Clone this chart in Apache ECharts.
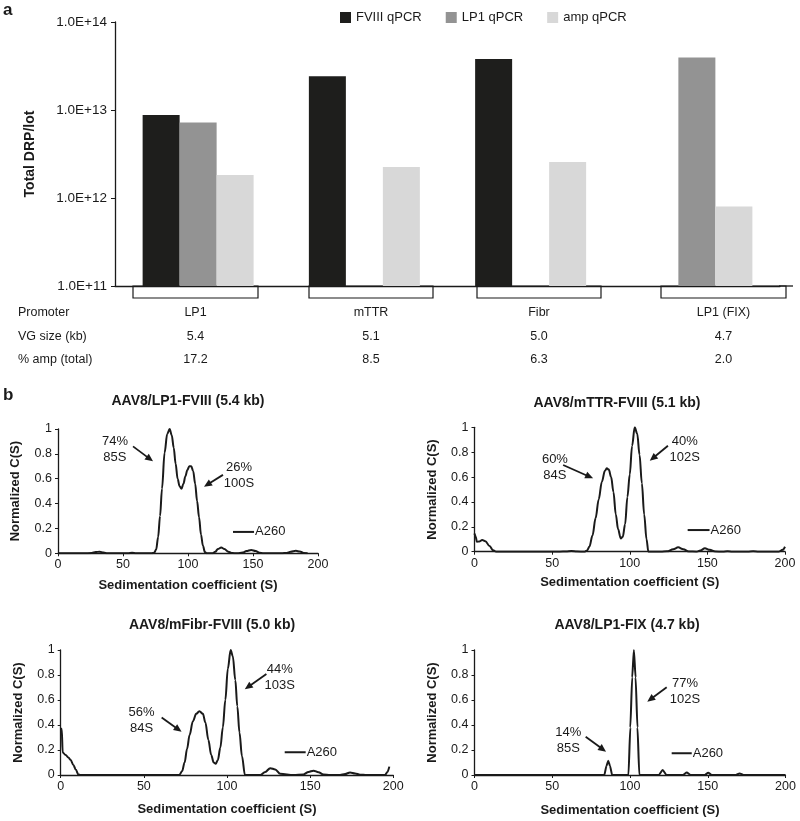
<!DOCTYPE html>
<html><head><meta charset="utf-8">
<script src="https://cdn.jsdelivr.net/npm/echarts@6/dist/echarts.min.js"></script>
<style>html,body{margin:0;padding:0;background:#fff}#c{width:800px;height:821px}</style>
</head><body><div id="c"></div>
<script>
// ---------- Panel a data ----------
const categories = ['LP1', 'mTTR', 'Fibr', 'LP1 (FIX)'];
const seriesNames = ['FVIII qPCR', 'LP1 qPCR', 'amp qPCR'];
const fviiiQpcr = [8.8e12, 2.42e13, 3.8e13, null];
const lp1Qpcr = [7.2e12, null, null, 3.95e13];
const ampQpcr = [1.82e12, 2.25e12, 2.57e12, 8.0e11];
const yTickLabels = ['1.0E+11', '1.0E+12', '1.0E+13', '1.0E+14'];
const rowLabels = ['Promoter', 'VG size (kb)', '% amp (total)'];
const promoters = ['LP1', 'mTTR', 'Fibr', 'LP1 (FIX)'];
const vgSizes = ['5.4', '5.1', '5.0', '4.7'];
const ampTotals = ['17.2', '8.5', '6.3', '2.0'];

// ---------- Panel b data ----------
const plotTitles = ['AAV8/LP1-FVIII (5.4 kb)', 'AAV8/mTTR-FVIII (5.1 kb)', 'AAV8/mFibr-FVIII (5.0 kb)', 'AAV8/LP1-FIX (4.7 kb)'];
const xTitle = 'Sedimentation coefficient (S)';
const yTitle = 'Normalized C(S)';

const lp1FviiiS = [0, 20, 26, 29, 32, 35, 38, 50, 54, 57, 60, 72, 74, 75.5, 77, 78.5, 80, 82, 84, 85.9, 87.5, 89, 90.5, 92, 93.5, 95, 96.5, 98, 99.5, 101, 102.5, 104, 105.5, 107, 108.5, 110, 111.5, 113, 114.5, 117, 119, 121, 123, 125.6, 128, 131, 134, 138, 142, 145, 148.6, 152, 155, 158, 172, 176, 179, 183, 186, 189, 192];
const lp1FviiiC = [0, 0, 0.002, 0.01, 0.013, 0.006, 0, 0, 0, 0.004, 0, 0, 0.005, 0.03, 0.13, 0.3, 0.52, 0.81, 0.96, 1.0, 0.95, 0.85, 0.72, 0.6, 0.54, 0.52, 0.56, 0.62, 0.67, 0.7, 0.7, 0.66, 0.56, 0.42, 0.29, 0.15, 0.06, 0.01, 0, 0, 0, 0.012, 0.035, 0.046, 0.035, 0.012, 0.002, 0, 0.006, 0.018, 0.027, 0.018, 0.005, 0, 0, 0.003, 0.012, 0.02, 0.014, 0.003, 0];

const mttrS = [0, 0.8, 1.5, 3, 5, 7, 9.7, 12, 14, 55, 59, 62.4, 66, 71, 72.5, 74, 76, 78, 80, 82, 84, 85.2, 86.5, 88, 89.5, 91, 92.5, 94.2, 95.5, 97, 98.5, 100, 101.5, 103.2, 104.8, 106.3, 107.8, 109.3, 110.8, 112, 120, 124, 128, 131.2, 134.5, 138, 143, 145.5, 148.4, 151.5, 155, 160, 163, 166, 176, 179.5, 183, 196, 198.5, 200];
const mttrC = [0.147, 0.12, 0.08, 0.082, 0.094, 0.085, 0.045, 0.012, 0, 0, 0.002, 0.005, 0.001, 0, 0.01, 0.04, 0.13, 0.27, 0.42, 0.56, 0.65, 0.67, 0.66, 0.6, 0.48, 0.3, 0.18, 0.107, 0.12, 0.22, 0.44, 0.62, 0.85, 1.0, 0.95, 0.78, 0.55, 0.3, 0.1, 0, 0, 0.003, 0.02, 0.035, 0.02, 0.002, 0, 0.01, 0.027, 0.015, 0.001, 0, 0.004, 0, 0, 0.004, 0, 0, 0.015, 0.04];

const fibrS = [0, 0.6, 1.2, 3, 4.6, 6, 7.6, 9, 10.6, 12, 71.3, 73, 74.5, 76, 77.5, 79.5, 81.5, 83.4, 85.5, 87, 88.8, 90.5, 92, 93.2, 94.5, 96, 97.5, 99, 100.5, 102.2, 103.5, 105, 106.2, 107.5, 109, 110.8, 120, 123, 126, 129, 132, 140, 146, 149, 152, 155, 158, 162, 168, 171, 174, 177, 180, 184, 195, 196.5, 197.6];
const fibrC = [0.37, 0.37, 0.18, 0.16, 0.14, 0.12, 0.08, 0.045, 0.005, 0, 0, 0.03, 0.1, 0.21, 0.32, 0.43, 0.49, 0.51, 0.49, 0.42, 0.28, 0.16, 0.1, 0.09, 0.12, 0.22, 0.38, 0.6, 0.85, 1.0, 0.95, 0.76, 0.55, 0.34, 0.15, 0, 0, 0.025, 0.055, 0.045, 0.01, 0, 0.005, 0.025, 0.035, 0.022, 0.005, 0, 0, 0.008, 0.02, 0.012, 0.003, 0, 0, 0.025, 0.067];

const lp1FixS = [0, 83.5, 84.8, 86, 87.2, 88.5, 99, 100.2, 101.4, 102.5, 103.6, 104.8, 106, 118.5, 121, 123.5, 134, 136.5, 139, 148, 150.3, 152.6, 168, 170.5, 173, 200];
const lp1FixC = [0, 0, 0.07, 0.115, 0.07, 0, 0, 0.38, 0.78, 1.0, 0.78, 0.38, 0, 0, 0.04, 0, 0, 0.02, 0, 0, 0.018, 0, 0, 0.013, 0, 0];

// annotation texts (peak fraction / sedimentation value)
const peakLabels = [
  ['74%\n85S', '26%\n100S'],
  ['60%\n84S', '40%\n102S'],
  ['56%\n84S', '44%\n103S'],
  ['14%\n85S', '77%\n102S']
];
const detectorLabel = 'A260';

// ---------- layout (positions only) ----------
const FONT = 'Arial, "Liberation Sans", Helvetica, sans-serif';
const INK = '#1a1a1a';
const barColors = ['#1e1e1c', '#939393', '#d8d8d8'];
const smallGrids = [
  {left: 58, top: 429, width: 260, height: 124.3},
  {left: 474.5, top: 427.3, width: 310.5, height: 124.4},
  {left: 60.7, top: 650, width: 332.6, height: 125},
  {left: 474.5, top: 650, width: 311, height: 125}
];
const xNameGaps = [26, 24, 28, 28.5];
const titlePos = [[188, 401], [617, 403.5], [212, 625], [627, 625]];
// annotation anchors in data coordinates: [text centre], [arrow tail], [arrow head]
const annLayout = [
  [{t: [43.8, 0.835], a: [57.7, 0.86], b: [73.1, 0.74]}, {t: [139.2, 0.623], a: [126.9, 0.631], b: [112.3, 0.535]}, {l: [134.6, 150.8, 0.172]}],
  [{t: [51.8, 0.681], a: [57.1, 0.697], b: [76.4, 0.59]}, {t: [135.4, 0.822], a: [124.6, 0.852], b: [112.9, 0.731]}, {l: [137.3, 151.4, 0.174]}],
  [{t: [48.6, 0.434], a: [60.7, 0.46], b: [72.7, 0.346]}, {t: [131.7, 0.78], a: [123.7, 0.808], b: [110.7, 0.686]}, {l: [134.7, 147.3, 0.182]}],
  [{t: [60.3, 0.276], a: [71.5, 0.306], b: [84.6, 0.186]}, {t: [135.4, 0.67], a: [123.6, 0.702], b: [111.1, 0.586]}, {l: [126.8, 139.7, 0.174]}]
];
const bracketX = [[133, 258], [309, 433], [477, 601], [661, 786]];
const rowY = [313, 337, 360];

const curves = [[lp1FviiiS, lp1FviiiC], [mttrS, mttrC], [fibrS, fibrC], [lp1FixS, lp1FixC]];
const smoothing = [0.35, 0.35, 0.35, 0.2];

const chart = echarts.init(document.getElementById('c'), null, {renderer: 'canvas'});

const grid = [{left: 115, top: 22, width: 665, height: 264, containLabel: false, outerBoundsMode: 'none'}]
  .concat(smallGrids.map(g => Object.assign({containLabel: false, outerBoundsMode: 'none'}, g)));

const xAxis = [{
  type: 'category', gridIndex: 0, data: categories,
  axisLine: {lineStyle: {color: INK, width: 1.3}},
  axisTick: {show: false}, axisLabel: {show: false}, splitLine: {show: false}
}];
const yAxis = [{
  type: 'log', gridIndex: 0, logBase: 10, min: 1e11, max: 1e14,
  name: 'Total DRP/lot', nameLocation: 'middle', nameGap: 78,
  nameTextStyle: {fontWeight: 'bold', fontSize: 14, color: INK, fontFamily: FONT},
  axisLine: {show: true, lineStyle: {color: INK, width: 1.3}},
  axisTick: {show: true, length: 4, lineStyle: {color: INK}},
  minorTick: {show: false}, splitLine: {show: false}, minorSplitLine: {show: false},
  axisLabel: {margin: 8, fontSize: 13.5, color: INK, fontFamily: FONT,
    formatter: v => yTickLabels[Math.round(Math.log10(v)) - 11]}
}];
const series = [fviiiQpcr, lp1Qpcr, ampQpcr].map((d, i) => ({
  type: 'bar', name: seriesNames[i], xAxisIndex: 0, yAxisIndex: 0, data: d,
  barWidth: 37, barGap: '0%', itemStyle: {color: barColors[i]}, clip: true
}));

curves.forEach((cv, k) => {
  const gi = k + 1;
  xAxis.push({
    type: 'value', gridIndex: gi, min: 0, max: 200, interval: 50,
    name: xTitle, nameLocation: 'middle', nameGap: xNameGaps[k],
    nameTextStyle: {fontWeight: 'bold', fontSize: 13, color: INK, fontFamily: FONT},
    axisLine: {show: true, lineStyle: {color: INK, width: 1.3}},
    axisTick: {show: true, length: 3, lineStyle: {color: INK}},
    axisLabel: {margin: 5, fontSize: 12.5, color: INK, fontFamily: FONT},
    splitLine: {show: false}
  });
  yAxis.push({
    type: 'value', gridIndex: gi, min: 0, max: 1, interval: 0.2,
    name: yTitle, nameLocation: 'middle', nameGap: 36,
    nameTextStyle: {fontWeight: 'bold', fontSize: 13, color: INK, fontFamily: FONT},
    axisLine: {show: true, lineStyle: {color: INK, width: 1.3}},
    axisTick: {show: true, length: 3, lineStyle: {color: INK}},
    axisLabel: {margin: 6, fontSize: 12.5, color: INK, fontFamily: FONT},
    splitLine: {show: false}
  });
  series.push({
    type: 'line', xAxisIndex: gi, yAxisIndex: gi,
    data: cv[0].map((s, i) => [s, cv[1][i]]),
    showSymbol: false, symbol: 'none', smooth: smoothing[k], smoothMonotone: 'x',
    lineStyle: {color: INK, width: 2}, clip: true, silent: true
  });
});

chart.setOption({
  animation: false,
  backgroundColor: '#fff',
  textStyle: {fontFamily: FONT},
  grid, xAxis, yAxis, series,
  legend: {
    left: 340, top: 11, padding: 0, itemWidth: 11, itemHeight: 11, itemGap: 24,
    icon: 'rect', data: seriesNames, selectedMode: false,
    textStyle: {fontSize: 13, color: INK, fontFamily: FONT}
  }
});

// ---------- graphics ----------
const g = [];
const txt = (x, y, text, o) => g.push({type: 'text', x, y, silent: true, style: Object.assign({
  text, fill: INK, fontSize: 13, fontFamily: FONT, align: 'left', verticalAlign: 'middle'}, o || {})});

txt(3, 10, 'a', {fontSize: 17, fontWeight: 'bold'});
txt(3, 395, 'b', {fontSize: 17, fontWeight: 'bold'});

// bracket boxes under the bar groups and axis-line extension
bracketX.forEach(([x1, x2]) => g.push({type: 'rect', silent: true,
  shape: {x: x1, y: 286, width: x2 - x1, height: 12}, style: {fill: 'none', stroke: INK, lineWidth: 1.2}}));
g.push({type: 'line', silent: true, shape: {x1: 779, y1: 286, x2: 793, y2: 286}, style: {stroke: INK, lineWidth: 1.3}});

// table
const rows = [promoters, vgSizes, ampTotals];
rowLabels.forEach((lab, r) => {
  txt(18, rowY[r], lab, {fontSize: 12.5});
  rows[r].forEach((v, i) => txt((bracketX[i][0] + bracketX[i][1]) / 2, rowY[r], v, {fontSize: 12.5, align: 'center'}));
});

// panel b titles & annotations
const px = (k, p) => chart.convertToPixel({gridIndex: k + 1}, p);
function arrow(p1, p2) {
  const dx = p2[0] - p1[0], dy = p2[1] - p1[1], L = Math.hypot(dx, dy), ux = dx / L, uy = dy / L;
  const hl = 8, hw = 3.6, bx = p2[0] - ux * hl, by = p2[1] - uy * hl;
  g.push({type: 'line', silent: true, shape: {x1: p1[0], y1: p1[1], x2: bx + ux, y2: by + uy}, style: {stroke: INK, lineWidth: 1.8}});
  g.push({type: 'polygon', silent: true, shape: {points: [[p2[0], p2[1]], [bx - uy * hw, by + ux * hw], [bx + uy * hw, by - ux * hw]]}, style: {fill: INK}});
}
plotTitles.forEach((t, k) => {
  txt(titlePos[k][0], titlePos[k][1], t, {fontSize: 14, fontWeight: 'bold', align: 'center'});
  const ann = annLayout[k];
  [0, 1].forEach(j => {
    const a = ann[j];
    const tp = px(k, a.t);
    txt(tp[0], tp[1], peakLabels[k][j], {align: 'center', lineHeight: 16});
    arrow(px(k, a.a), px(k, a.b));
  });
  const l = ann[2].l;
  const p1 = px(k, [l[0], l[2]]), p2 = px(k, [l[1], l[2]]);
  g.push({type: 'line', silent: true, shape: {x1: p1[0], y1: p1[1], x2: p2[0], y2: p2[1]}, style: {stroke: INK, lineWidth: 2}});
  txt(p2[0] + 1, p2[1], detectorLabel);
});

chart.setOption({graphic: g});
</script></body></html>
